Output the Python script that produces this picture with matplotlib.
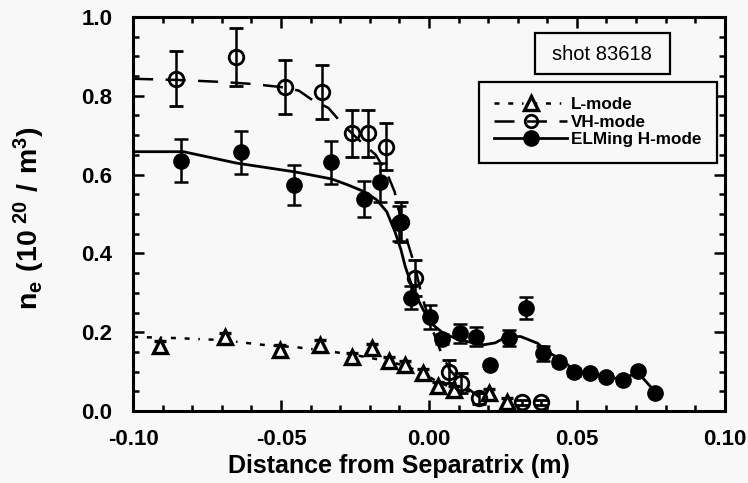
import numpy as np
import matplotlib
matplotlib.use('Agg')
import matplotlib.pyplot as plt
from matplotlib.patches import Rectangle
from matplotlib.ticker import MultipleLocator, FormatStrFormatter
from matplotlib.lines import Line2D

plt.rcParams['font.family'] = ['Liberation Sans', 'DejaVu Sans']
plt.rcParams['mathtext.fontset'] = 'custom'
plt.rcParams['mathtext.rm'] = 'Liberation Sans'
plt.rcParams['mathtext.bf'] = 'Liberation Sans:bold'

# L-mode data (open triangles)
l_x = [-0.0908, -0.069, -0.0503, -0.0367, -0.026, -0.0192, -0.0135, -0.008, -0.002,
       0.003, 0.0085, 0.0202, 0.0264]
l_y = [0.165, 0.187, 0.155, 0.167, 0.138, 0.159, 0.127, 0.117, 0.096,
       0.064, 0.053, 0.045, 0.024]
l_err = [0.012, 0.012, 0.012, 0.012, 0.01, 0.012, 0.01, 0.01, 0.01,
         0.01, 0.01, 0.01, 0.008]

# VH-mode data (open circles)
vh_x = [-0.0855, -0.0653, -0.0485, -0.0363, -0.0261, -0.0207, -0.0146, -0.0095,
        -0.0048, 0.0066, 0.0107, 0.0168, 0.0315, 0.0378]
vh_y = [0.843, 0.899, 0.822, 0.809, 0.705, 0.705, 0.671, 0.48,
        0.337, 0.10, 0.072, 0.032, 0.022, 0.022]
vh_err = [0.07, 0.074, 0.068, 0.068, 0.06, 0.06, 0.06, 0.05,
          0.045, 0.03, 0.025, 0.015, 0.006, 0.006]

# ELMing H-mode data (filled circles)
elm_x = [-0.0837, -0.0636, -0.0455, -0.0332, -0.0219, -0.0165, -0.0102, -0.006,
         0.0005, 0.0044, 0.0104, 0.016, 0.0207, 0.027, 0.0327, 0.0385, 0.0439,
         0.049, 0.0545, 0.0599, 0.0655, 0.0706, 0.0763]
elm_y = [0.635, 0.656, 0.574, 0.631, 0.538, 0.58, 0.476, 0.288,
         0.239, 0.183, 0.197, 0.189, 0.118, 0.185, 0.261, 0.146, 0.125,
         0.10, 0.096, 0.086, 0.079, 0.101, 0.047]
elm_err = [0.054, 0.054, 0.05, 0.055, 0.045, 0.05, 0.045, 0.03,
           0.03, 0.012, 0.025, 0.025, 0.0, 0.02, 0.028, 0.02, 0.01,
           0.01, 0.008, 0.008, 0.008, 0.008, 0.006]

# fitted curves
l_fit_x = [-0.100, -0.085, -0.070, -0.055, -0.045, -0.035, -0.025, -0.015, -0.008,
           -0.002, 0.004, 0.010, 0.018, 0.026]
l_fit_y = [0.188, 0.185, 0.180, 0.167, 0.162, 0.153, 0.142, 0.128, 0.115,
           0.095, 0.070, 0.055, 0.045, 0.030]

vh_fit_x = [-0.100, -0.085, -0.070, -0.060, -0.050, -0.044, -0.040, -0.034, -0.029,
            -0.024, -0.018, -0.014, -0.0116, -0.0104, -0.0085, -0.0071, -0.0054,
            -0.0042, -0.0030, -0.0015, 0.001, 0.004, 0.007, 0.011, 0.017]
vh_fit_y = [0.843, 0.840, 0.835, 0.830, 0.822, 0.813, 0.792, 0.769, 0.726,
            0.690, 0.650, 0.600, 0.556, 0.514, 0.470, 0.425, 0.383,
            0.349, 0.310, 0.270, 0.210, 0.150, 0.105, 0.070, 0.035]

elm_fit_x = [-0.100, -0.083, -0.065, -0.0455, -0.033, -0.0275, -0.022, -0.0177,
             -0.0143, -0.0115, -0.0095, -0.008, -0.0053, -0.0019, 0.0015, 0.0049,
             0.0105, 0.0185, 0.0224, 0.0264, 0.031, 0.0367, 0.040, 0.045, 0.049,
             0.055, 0.060, 0.065, 0.0706, 0.0763]
elm_fit_y = [0.658, 0.658, 0.629, 0.607, 0.589, 0.574, 0.557, 0.536,
             0.506, 0.455, 0.41, 0.366, 0.307, 0.256, 0.218, 0.197,
             0.180, 0.168, 0.173, 0.189, 0.189, 0.172, 0.150, 0.130, 0.104,
             0.096, 0.088, 0.080, 0.098, 0.050]

bg = '#f8f8f8'
fig = plt.figure(figsize=(7.48, 4.83), dpi=100)
fig.patch.set_facecolor(bg)
ax = fig.add_axes([0.178, 0.149, 0.791, 0.816])
ax.set_facecolor(bg)

lw = 1.8
l_style = (0, (2.0, 3.5, 2.0, 3.5, 0.6, 3.5))
vh_style = (0, (8, 5))

ax.plot(l_fit_x, l_fit_y, color='black', lw=lw, linestyle=l_style)
ax.plot(vh_fit_x, vh_fit_y, color='black', lw=lw, linestyle=vh_style)
ax.plot(elm_fit_x, elm_fit_y, color='black', lw=2.0, linestyle='-')

ax.errorbar(l_x, l_y, yerr=l_err, fmt='^', ms=10, mfc=bg, mec='black', mew=2.4,
            ecolor='black', elinewidth=1.8, capsize=4, capthick=1.8, zorder=4)
ax.errorbar(vh_x, vh_y, yerr=vh_err, fmt='o', ms=10.5, mfc='none', mec='black', mew=2.0,
            ecolor='black', elinewidth=1.8, capsize=5, capthick=1.8, zorder=4)
ax.errorbar(elm_x, elm_y, yerr=elm_err, fmt='o', ms=11, mfc='black', mec='black',
            ecolor='black', elinewidth=1.8, capsize=5, capthick=1.8, zorder=5)

ax.set_xlim(-0.10, 0.10)
ax.set_ylim(0.0, 1.0)
ax.xaxis.set_major_locator(MultipleLocator(0.05))
ax.xaxis.set_minor_locator(MultipleLocator(0.01))
ax.yaxis.set_major_locator(MultipleLocator(0.2))
ax.yaxis.set_minor_locator(MultipleLocator(0.05))
ax.xaxis.set_major_formatter(FormatStrFormatter('%.2f'))
ax.yaxis.set_major_formatter(FormatStrFormatter('%.1f'))
ax.tick_params(which='both', direction='in', top=True, right=True, width=1.8)
ax.tick_params(which='major', length=8, labelsize=16)
ax.tick_params(axis='x', which='major', pad=13)
ax.tick_params(axis='y', which='major', pad=15)
ax.tick_params(which='minor', length=4.5)
for lab in ax.get_xticklabels() + ax.get_yticklabels():
    lab.set_fontweight('bold')
for sp in ax.spines.values():
    sp.set_linewidth(2.2)

ax.set_xlabel('Distance from Separatrix (m)', fontsize=18, fontweight='bold')
ax.xaxis.set_label_coords(0.449, -0.11)
ax.set_ylabel(r'$\mathbf{n_e\ (10^{\ 20}\ /\ m^3)}$', fontsize=20.5)
ax.yaxis.set_label_coords(-0.145, 0.49)

# shot label box
ax.add_patch(Rectangle((0.679, 0.855), 0.228, 0.104, transform=ax.transAxes,
                       facecolor=bg, edgecolor='black', lw=1.6, zorder=6))
ax.text(0.793, 0.905, 'shot 83618', transform=ax.transAxes, ha='center', va='center',
        fontsize=14.5, zorder=7)

handles = [
    Line2D([], [], color='black', lw=lw, linestyle=l_style, marker='^', ms=10,
           mfc=bg, mec='black', mew=2.4),
    Line2D([], [], color='black', lw=lw, linestyle=vh_style, marker='o', ms=9,
           mfc='none', mec='black', mew=2.0),
    Line2D([], [], color='black', lw=2.0, linestyle='-', marker='o', ms=11,
           mfc='black', mec='black'),
]
leg = ax.legend(handles, ['L-mode', 'VH-mode', 'ELMing H-mode'],
                loc='upper right', bbox_to_anchor=(0.986, 0.835), fancybox=False,
                framealpha=1, facecolor=bg, edgecolor='black',
                handlelength=4.3, handletextpad=0.2, labelspacing=0.15,
                borderpad=0.9, borderaxespad=0.0,
                prop={'weight': 'bold', 'size': 12.3})
leg.get_frame().set_linewidth(1.6)
leg.set_zorder(6)

fig.savefig('out.png', dpi=100, facecolor=fig.get_facecolor())
